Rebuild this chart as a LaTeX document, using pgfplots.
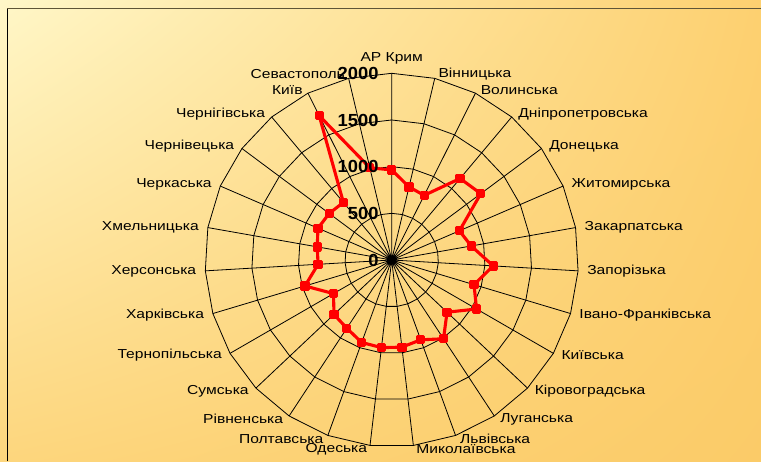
\documentclass[border=0pt]{standalone}
\usepackage{fontspec}
\setmainfont{Liberation Sans}[FakeStretch=1.2]
\newfontfamily\tickfont{Liberation Sans}[FakeStretch=1.05]
\usepackage{pgfplots}
\usepackage{pgfplotstable}
\usepgfplotslibrary{polar}
\usetikzlibrary{shadings}
\pgfplotsset{compat=1.18}

% index (0 = AR Krym, clockwise) and value
\pgfplotstableread{
i v
0 965
1 805
2 775
3 1140
4 1190
5 790
6 865
7 1090
8 920
9 1050
10 815
11 1010
12 910
13 940
14 945
15 940
16 875
17 850
18 720
19 970
20 790
21 810
22 860
23 835
24 805
25 1730
26 1015
27 965
}\data

\definecolor{bgTL}{RGB}{255,247,200}
\definecolor{bgTR}{RGB}{253,208,112}
\definecolor{bgBL}{RGB}{253,214,125}
\definecolor{bgBR}{RGB}{251,203,104}
\definecolor{frametop}{RGB}{95,85,55}

\pgfplotsset{
  radarbase/.style={
    at={(391.7pt,201pt)}, anchor=origin,
    scale only axis, width=373.4pt, height=373.4pt,
    xmin=90, xmax=450, ymin=0, ymax=2000,
    clip=false,
    axis line style={draw=none},
    major tick length=0pt,
  }
}

\begin{document}
\begin{tikzpicture}[x=1pt,y=1pt]
\shade[upper left=bgTL, upper right=bgTR, lower left=bgBL, lower right=bgBR] (0,0) rectangle (761,461);
\useasboundingbox (0,0) rectangle (761,461);
\draw[black, line width=0.9pt] (7,0) -- (7,452);
\draw[frametop, line width=1pt] (7,452) -- (761,452);
\begin{polaraxis}[
  radarbase,
  x filter/.expression={450-x*360/27},
  xtick={90,103.3333,116.6667,130,143.3333,156.6667,170,183.3333,196.6667,210,223.3333,236.6667,250,263.3333,276.6667,290,303.3333,316.6667,330,343.3333,356.6667,370,383.3333,396.6667,410,423.3333,436.6667},
  xticklabels={АР Крим,Севастополь,Київ,Чернігівська,Чернівецька,Черкаська,Хмельницька,Херсонська,Харківська,Тернопільська,Сумська,Рівненська,Полтавська,Одеська,Миколаївська,Львівська,Луганська,Кіровоградська,Київська,Івано-Франківська,Запорізька,Закарпатська,Житомирська,Донецька,Дніпропетровська,Волинська,Вінницька},
  ytick={0,500,1000,1500,2000},
  yticklabels={},
  xmajorgrids=true, ymajorgrids=false,
  grid style={black, line width=0.8pt},
  xticklabel style={
    /utils/exec={%
      \pgfmathsetmacro\tc{cos(\tick)}%
      \pgfmathsetmacro\ts{sin(\tick)}%
      \pgfmathtruncatemacro\tanch{\tc>0.05 ? 180 : (\tc < -0.05 ? 0 : 270)}%
      \pgfmathsetmacro\tdx{7*\tc + (\tc>0.05 ? 2 : (\tc<-0.05 ? -2 : 0))}%
      \pgfmathsetmacro\tdy{4*\ts + ((\tc>0.05 || \tc<-0.05) ? 0 : 5)}%
    },
    anchor=\tanch, xshift=\tdx pt, yshift=\tdy pt, inner sep=0pt,
    font=\fontsize{13}{15}\selectfont, text=black
  },
]
\addplot[black, line width=0.8pt, mark=none, samples at={0,1,...,27}] {500};
\addplot[black, line width=0.8pt, mark=none, samples at={0,1,...,27}] {1000};
\addplot[black, line width=0.8pt, mark=none, samples at={0,1,...,27}] {1500};
\addplot[black, line width=0.8pt, mark=none, samples at={0,1,...,27}] {2000};
\addplot[red, line width=3.1pt, line join=round, mark=square*, mark size=3.1pt, mark options={solid, fill=red}] table[x=i, y=v] {\data};
\end{polaraxis}
% value tick labels drawn on top of the series, as in the reference
\begin{polaraxis}[
  radarbase,
  xtick=\empty,
  xmajorgrids=false, ymajorgrids=false,
  ytick={0,500,1000,1500,2000},
  yticklabels={0,500,1000,1500,2000},
  yticklabel style={font=\tickfont\fontsize{17.5}{20}\selectfont\bfseries, anchor=east, inner sep=0pt, xshift=-13pt, text=black},
]
\end{polaraxis}
\end{tikzpicture}
\end{document}
